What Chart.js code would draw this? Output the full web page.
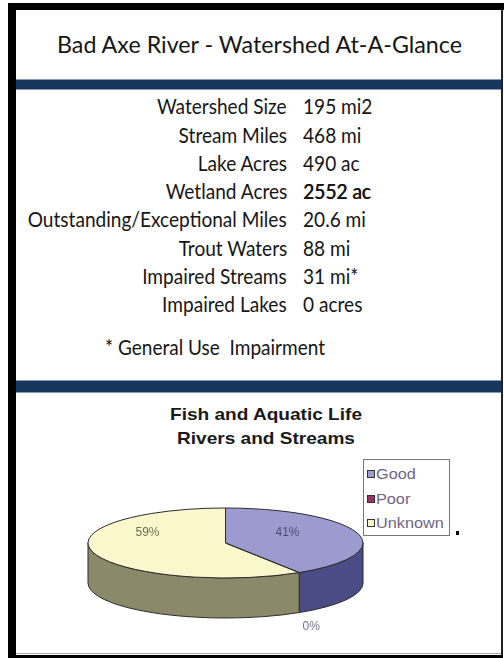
<!DOCTYPE html>
<html><head><meta charset="utf-8">
<script src="https://cdn.jsdelivr.net/npm/chart.js@4/dist/chart.umd.min.js"></script>
<style>
html,body{margin:0;padding:0;background:#fff}
#page{position:relative;width:504px;height:658px;overflow:hidden;background:#fff}
.blk{position:absolute;background:#000}
.navy{position:absolute;background:#17365d;border-top:1px solid #8797ad;border-bottom:1px solid #8797ad}
.t{position:absolute;white-space:pre;font-family:Lato,"Open Sans",sans-serif;color:#161616}
.ct{position:absolute;white-space:pre;font-family:"Liberation Sans",Arial,sans-serif;font-weight:700;font-size:17px;line-height:17px;color:#1a1a1a}
#c{position:absolute;left:16px;top:393px}
#legend{position:absolute;left:363px;top:459px;width:85px;height:75px;border:1px solid #777;background:#fff}
.li{position:absolute;left:3px;height:16px;white-space:pre;font-family:"Liberation Sans",Arial,sans-serif;font-size:14px;line-height:16px;color:#6f6483}
.sw{position:absolute;left:0;top:4px;width:6px;height:6px;border:1px solid #333}
.lt{position:absolute;left:9px;top:0;transform-origin:left center}
#v3{text-shadow:0.6px 0 0 #161616}
</style></head><body>
<div id="page">
  <div class="blk" style="left:8px;top:3px;width:496px;height:7px"></div>
  <div class="blk" style="left:8px;top:3px;width:8px;height:655px"></div>
  <div class="blk" style="left:501px;top:10px;width:2px;height:645px;background:#222"></div>
  <div class="blk" style="left:16px;top:653px;width:485px;height:1px;background:#aaa"></div>
  <div class="blk" style="left:8px;top:655px;width:495px;height:3px"></div>
  <div class="navy" style="left:16px;top:79px;width:485px;height:9px"></div>
  <div class="navy" style="left:16px;top:380px;width:485px;height:11px"></div>
  <div id="texts"></div>
  <canvas id="c" width="486" height="262"></canvas>
  <div id="legend"></div>
  <div class="blk" style="left:456px;top:531px;width:3px;height:4px"></div>
</div>
<script>
// ---- data ----
const pageTitle = "Bad Axe River - Watershed At-A-Glance";
const statLabels = ["Watershed Size","Stream Miles","Lake Acres","Wetland Acres","Outstanding/Exceptional Miles","Trout Waters","Impaired Streams","Impaired Lakes"];
const statValues = ["195 mi2","468 mi","490 ac","2552 ac","20.6 mi","88 mi","31 mi*","0 acres"];
const footnote = "* General Use  Impairment";
const chartTitleLines = ["Fish and Aquatic Life","Rivers and Streams"];
const categories = ["Good","Poor","Unknown"];
const percentValues = [41, 0, 59];

// ---- styles ----
const topColors = ["#9b9bd0","#993366","#fbf7cc"];
const sideColors = ["#4b4b86","#5a1f3c","#8a8a6a"];
const labelColors = ["#4a4a7a","#707488","#6e7050"];
const OUTLINE = "#2b2b2b";

const texts = document.getElementById('texts');
function mk(cls, txt, css){ const d=document.createElement('div'); d.className=cls; d.textContent=txt; Object.assign(d.style, css); texts.appendChild(d); return d; }

// title
const TFS = 24;
const title = mk('t', pageTitle, {fontSize:TFS+'px', lineHeight:(TFS*1.2)+'px', left:'0px', top:(54-0.987*TFS)+'px'});
{ const w = title.getBoundingClientRect().width; const s = 405/w; title.style.transformOrigin='left top'; title.style.transform='scaleX('+s+')'; title.style.left=(259.5-w*s/2)+'px'; }

// stats rows
const FS = 22, ROW0 = 115, STEP = 28.3, LABEL_RIGHT = 287, VALUE_LEFT = 303;
const labs = [], vals = [];
statLabels.forEach((lab,i)=>{
  const base = ROW0 + i*STEP;
  labs.push(mk('t', lab, {fontSize:FS+'px', lineHeight:(FS*1.2)+'px', right:(504-LABEL_RIGHT)+'px', top:(base-0.987*FS)+'px', transformOrigin:'right top'}));
  const v = mk('t', statValues[i], {fontSize:FS+'px', lineHeight:(FS*1.2)+'px', left:VALUE_LEFT+'px', top:(base-0.987*FS)+'px', transformOrigin:'left top'});
  v.id = 'v'+i; vals.push(v);
});
const longest = labs[4].getBoundingClientRect().width;
const sx = 259/longest;
labs.concat(vals).forEach(d=>d.style.transform='scaleX('+sx+')');
const note = mk('t', footnote, {fontSize:FS+'px', lineHeight:(FS*1.2)+'px', left:'105px', top:(356-0.987*FS)+'px', transformOrigin:'left top'});
{ const w = note.getBoundingClientRect().width; note.style.transform='scaleX('+(220/w)+')'; }

// chart title
const ct = chartTitleLines.map((line,i)=>mk('ct', line, {left:'0px', top:(406+i*24)+'px', transformOrigin:'left top'}));
{ const w0 = ct[0].getBoundingClientRect().width; const s = 192/w0;
  ct.forEach(d=>{ const w=d.getBoundingClientRect().width; d.style.transform='scaleX('+s+')'; d.style.left=(266-w*s/2)+'px'; }); }

// ---- 3D pie ----
const RX = 137.5, RY = 35, DEPTH = 40;
const K = RY/RX;
const pie3d = {
  id:'pie3d',
  beforeDatasetsDraw(chart){
    const ctx = chart.ctx; const arcs = chart.getDatasetMeta(0).data;
    arcs.forEach((el,i)=>{
      const a = Math.max(el.startAngle,0), b = Math.min(el.endAngle,Math.PI);
      if (b <= a) return;
      const R = el.outerRadius;
      ctx.beginPath();
      ctx.ellipse(el.x, el.y, R, R*K, 0, a, b);
      ctx.ellipse(el.x, el.y+DEPTH, R, R*K, 0, b, a, true);
      ctx.closePath();
      ctx.fillStyle = sideColors[i]; ctx.fill();
      ctx.strokeStyle = OUTLINE; ctx.lineWidth = 1; ctx.stroke();
    });
    const cy = arcs[0].y;
    ctx.save();
    ctx.translate(0, cy); ctx.scale(1, K); ctx.translate(0, -cy);
  },
  afterDatasetsDraw(chart){
    const ctx = chart.ctx; ctx.restore();
    const arcs = chart.getDatasetMeta(0).data;
    arcs.forEach((el)=>{
      if (el.endAngle - el.startAngle <= 0) return;
      const R = el.outerRadius;
      ctx.beginPath();
      ctx.moveTo(el.x, el.y);
      ctx.ellipse(el.x, el.y, R, R*K, 0, el.startAngle, el.endAngle);
      ctx.closePath();
      ctx.strokeStyle = OUTLINE; ctx.lineWidth = 1; ctx.stroke();
    });
    ctx.font = '12px "Liberation Sans", Arial, sans-serif';
    ctx.textAlign = 'center'; ctx.textBaseline = 'middle';
    const vals = chart.data.datasets[0].data;
    arcs.forEach((el,i)=>{
      const R = el.outerRadius;
      const txt = vals[i] + '%';
      ctx.fillStyle = labelColors[i];
      if (el.endAngle - el.startAngle > 0) {
        const mid = (el.startAngle + el.endAngle)/2;
        ctx.fillText(txt, el.x + R*0.53*Math.cos(mid) - 8, el.y - 10);
      } else {
        const a = el.startAngle;
        ctx.fillText(txt, el.x + R*Math.cos(a) + 12, el.y + R*K*Math.sin(a) + DEPTH + 14);
      }
    });
  }
};

const chart = new Chart(document.getElementById('c'), {
  type:'pie',
  data:{ labels:categories, datasets:[{ data:percentValues, backgroundColor:topColors, borderWidth:0, radius:RX, clip:false }] },
  options:{
    responsive:false, animation:false, devicePixelRatio:1,
    layout:{ padding:{ left:0, right:67, top:38, bottom:0 } },
    plugins:{ legend:{display:false}, tooltip:{enabled:false}, title:{display:false} },
    events:[]
  },
  plugins:[pie3d]
});

// legend from chart data
const leg = document.getElementById('legend');
chart.data.labels.forEach((lab,i)=>{
  const it = document.createElement('div'); it.className='li'; it.style.top=(6+i*24.5)+'px';
  const sw = document.createElement('div'); sw.className='sw'; sw.style.background=chart.data.datasets[0].backgroundColor[i];
  const lt = document.createElement('div'); lt.className='lt'; lt.textContent=lab; lt.style.transform='scaleX(1.16)';
  it.appendChild(sw); it.appendChild(lt); leg.appendChild(it);
});
</script>
</body></html>
